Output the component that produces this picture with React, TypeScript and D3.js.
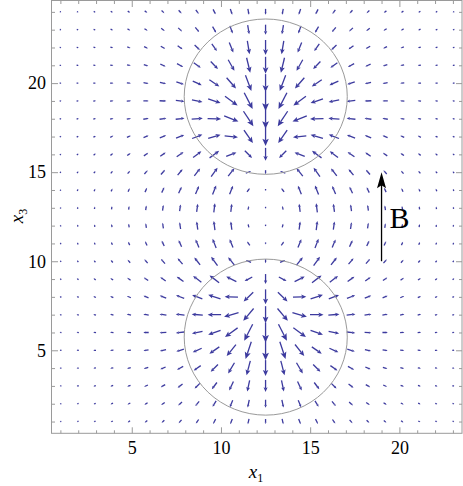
import React, { useEffect, useRef } from 'react';
import * as d3 from 'd3';

const W = 463;
const H = 486;

// sample grid of the vector plot: 24 columns x 24 rows
const xs = [1.01, 1.97, 2.92, 3.88, 4.84, 5.80, 6.75, 7.71, 8.67, 9.63, 10.58, 11.54,
  12.50, 13.46, 14.41, 15.37, 16.33, 17.29, 18.24, 19.20, 20.16, 21.12, 22.07, 23.03];
const ys = [1, 2, 3, 4, 5, 6, 7, 8, 9, 10, 11, 12, 13, 14, 15, 16, 17, 18, 19, 20, 21, 22, 23, 24];

// arrow length (px) read on the symmetry axis x1 = 12.5, all pointing down, one per row of ys
const axisLen = [5, 8, 12, 16, 20, 20, 17, 15, 10, 4, 2, 2, 2, 2, 4, 13, 19, 20, 20, 18, 17, 15, 10, 6];

// sink in the upper sphere, source in the lower one (the off-axis flow)
const poleX = [12.5, 12.5];
const poleY = [18, 7];
const poleSign = [-1, 1];

// the two spheres
const sphereCx = [12.51, 12.51];
const sphereCy = [19.24, 5.74];
const sphereRx = [4.57, 4.57];
const sphereRy = [4.36, 4.38];

const xMajor = [5, 10, 15, 20];
const yMajor = [5, 10, 15, 20];
const xMinor = [1, 2, 3, 4, 6, 7, 8, 9, 11, 12, 13, 14, 16, 17, 18, 19, 21, 22, 23];
const yMinor = [1, 2, 3, 4, 6, 7, 8, 9, 11, 12, 13, 14, 16, 17, 18, 19, 21, 22, 23, 24];

// applied field B
const bX = 19;
const bFrom = 10;
const bTo = 15;

const X0 = 12.5;      // symmetry axis
const K = 83;         // pole strength
const C2 = 12;        // pole core size^2
const JET_W2 = 2.9;   // width^2 of the axial downflow
const GAMMA = 0.7;    // arrow length ~ |v|^GAMMA
const LMAX = 20;

const ARROW = 'rgb(60,58,158)';
const GRAY = '#9a9a9a';
const SERIF = '"Liberation Serif", "Times New Roman", serif';

function poleField(px: number, py: number) {
  let vx = 0, vy = 0;
  for (let k = 0; k < poleX.length; k++) {
    const dx = px - poleX[k], dy = py - poleY[k];
    const m = K / Math.pow(dx * dx + dy * dy + C2, 2);
    vx += poleSign[k] * dx * m;
    vy += poleSign[k] * dy * m;
  }
  return [vx, vy];
}

export default function App() {
  const svgRef = useRef<SVGSVGElement>(null);

  useEffect(() => {
    const svg = d3.select(svgRef.current);
    svg.selectAll('*').remove();

    const x = d3.scaleLinear().domain([0.53, 23.51]).range([52, 462]);
    const y = d3.scaleLinear().domain([0.34, 24.61]).range([433.3, 1]);

    // arrows
    const jet = ys.map((yy, i) => {
      const raw = Math.pow(axisLen[i] / LMAX, 1 / GAMMA);
      return -raw - poleField(X0, yy)[1];
    });

    const arrows: { cx: number; cy: number; ux: number; uy: number; len: number }[] = [];
    ys.forEach((yy, i) => {
      xs.forEach((xx) => {
        const [px, py] = poleField(xx, yy);
        const dx = xx - X0;
        const vx = px;
        const vy = py + jet[i] * Math.exp(-dx * dx / JET_W2);
        const mag = Math.hypot(vx, vy);
        if (mag === 0) return;
        arrows.push({
          cx: x(xx), cy: y(yy),
          ux: vx / mag, uy: -vy / mag,
          len: Math.min(LMAX * Math.pow(mag, GAMMA), 22),
        });
      });
    });

    const ga = svg.append('g');
    arrows.forEach(a => {
      const L = a.len;
      const tx = a.cx + a.ux * L / 2, ty = a.cy + a.uy * L / 2;
      const sx = a.cx - a.ux * L / 2, sy = a.cy - a.uy * L / 2;
      const hl = 0.38 * L, hw = 0.17 * L;
      const nx = -a.uy, ny = a.ux;
      const bx = tx - a.ux * hl, by = ty - a.uy * hl;
      const kx = tx - a.ux * hl * 0.8, ky = ty - a.uy * hl * 0.8;
      ga.append('line')
        .attr('x1', sx).attr('y1', sy).attr('x2', kx).attr('y2', ky)
        .attr('stroke', ARROW).attr('stroke-width', 1.3);
      ga.append('path')
        .attr('d', `M${tx},${ty}L${bx + nx * hw},${by + ny * hw}L${kx},${ky}L${bx - nx * hw},${by - ny * hw}Z`)
        .attr('fill', ARROW);
    });

    // spheres
    svg.append('g').selectAll('ellipse')
      .data(sphereCx)
      .enter().append('ellipse')
      .attr('cx', (d, i) => x(d))
      .attr('cy', (d, i) => y(sphereCy[i]))
      .attr('rx', (d, i) => x(d + sphereRx[i]) - x(d))
      .attr('ry', (d, i) => y(sphereCy[i] - sphereRy[i]) - y(sphereCy[i]))
      .attr('fill', 'none')
      .attr('stroke', GRAY)
      .attr('stroke-width', 1);

    // B arrow
    const bx0 = x(bX);
    svg.append('line')
      .attr('x1', bx0).attr('y1', y(bFrom)).attr('x2', bx0).attr('y2', y(bTo) + 12)
      .attr('stroke', '#000').attr('stroke-width', 1.3);
    svg.append('path')
      .attr('d', `M${bx0},${y(bTo)}L${bx0 - 4.5},${y(bTo) + 16}L${bx0},${y(bTo) + 13}L${bx0 + 4.5},${y(bTo) + 16}Z`)
      .attr('fill', '#000');
    svg.append('text')
      .attr('x', bx0 + 8).attr('y', 228)
      .attr('font-family', SERIF).attr('font-size', 30)
      .text('B');

    // frame
    svg.append('rect')
      .attr('x', 51.5).attr('y', 0.5).attr('width', 410.5).attr('height', 432.8)
      .attr('fill', 'none').attr('stroke', GRAY);

    const styleAxis = (g: any) => {
      g.select('.domain').remove();
      g.selectAll('line').attr('stroke', GRAY);
      g.selectAll('text').attr('font-family', SERIF).attr('font-size', 18).attr('fill', '#000');
    };

    svg.append('g').attr('transform', 'translate(0,433.3)')
      .call(d3.axisBottom(x).tickValues(xMajor).tickSize(-6).tickPadding(8).tickFormat(d3.format('d')))
      .call(styleAxis);
    svg.append('g').attr('transform', 'translate(0,433.3)')
      .call(d3.axisBottom(x).tickValues(xMinor).tickSize(-3).tickFormat(() => ''))
      .call(styleAxis);
    svg.append('g').attr('transform', 'translate(0,1)')
      .call(d3.axisTop(x).tickValues(xMajor).tickSize(-6).tickFormat(() => ''))
      .call(styleAxis);
    svg.append('g').attr('transform', 'translate(0,1)')
      .call(d3.axisTop(x).tickValues(xMinor).tickSize(-3).tickFormat(() => ''))
      .call(styleAxis);
    svg.append('g').attr('transform', 'translate(52,0)')
      .call(d3.axisLeft(y).tickValues(yMajor).tickSize(-6).tickPadding(6).tickFormat(d3.format('d')))
      .call(styleAxis);
    svg.append('g').attr('transform', 'translate(52,0)')
      .call(d3.axisLeft(y).tickValues(yMinor).tickSize(-3).tickFormat(() => ''))
      .call(styleAxis);
    svg.append('g').attr('transform', 'translate(462,0)')
      .call(d3.axisRight(y).tickValues(yMajor).tickSize(-6).tickFormat(() => ''))
      .call(styleAxis);
    svg.append('g').attr('transform', 'translate(462,0)')
      .call(d3.axisRight(y).tickValues(yMinor).tickSize(-3).tickFormat(() => ''))
      .call(styleAxis);

    // axis labels
    const xl = svg.append('text')
      .attr('x', 256).attr('y', 478)
      .attr('text-anchor', 'middle')
      .attr('font-family', SERIF).attr('font-size', 19);
    xl.append('tspan').attr('font-style', 'italic').text('x');
    xl.append('tspan').attr('font-size', 12).attr('dy', 4).text('1');

    const yl = svg.append('text')
      .attr('transform', 'translate(23,216) rotate(-90)')
      .attr('text-anchor', 'middle')
      .attr('font-family', SERIF).attr('font-size', 19);
    yl.append('tspan').attr('font-style', 'italic').text('x');
    yl.append('tspan').attr('font-size', 12).attr('dy', 4).text('3');
  }, []);

  return (
    <svg ref={svgRef} width={W} height={H}
      style={{ position: 'absolute', left: 0, top: 0, background: '#fff' }} />
  );
}
